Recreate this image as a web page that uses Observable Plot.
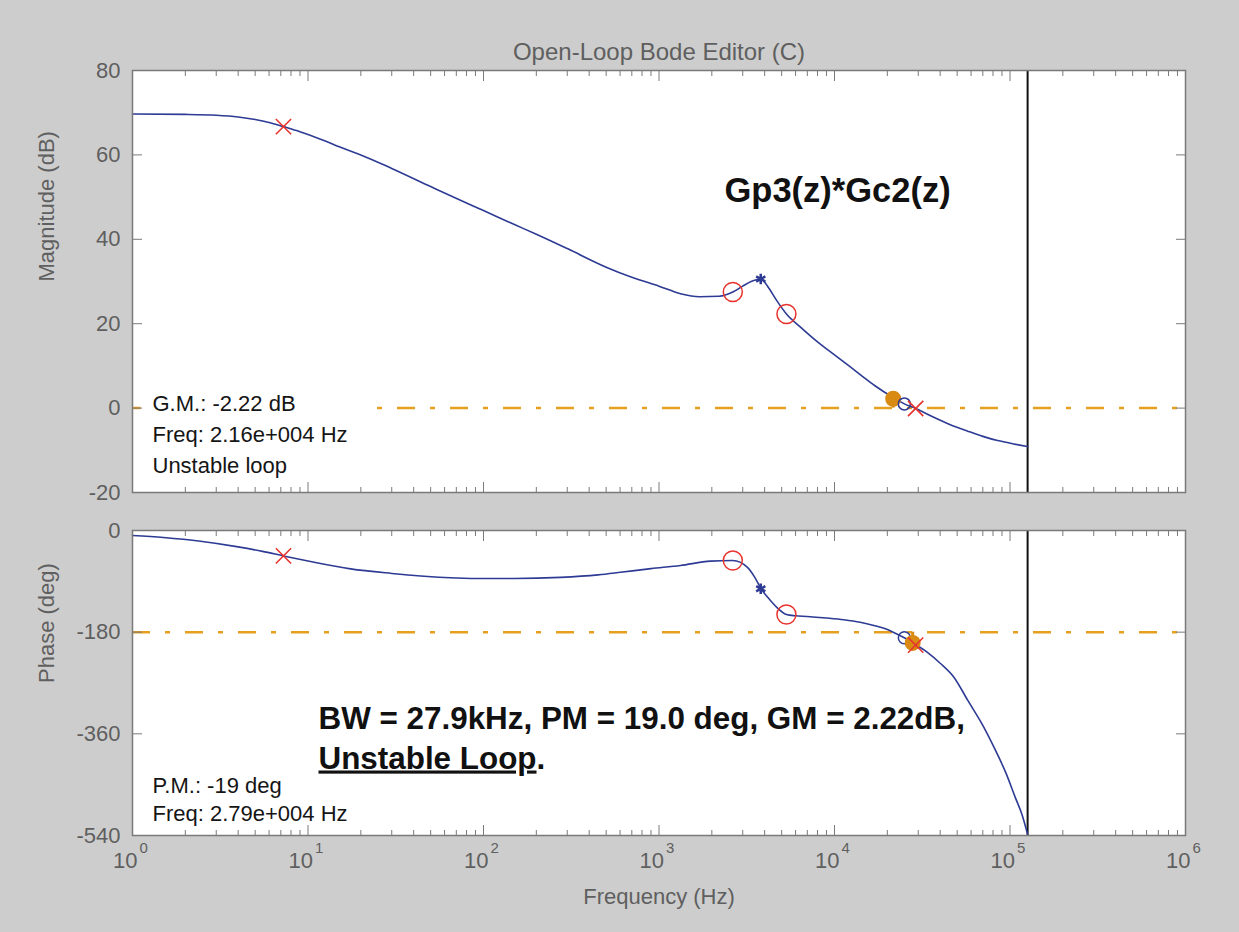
<!DOCTYPE html>
<html><head><meta charset="utf-8">
<script src="https://cdn.jsdelivr.net/npm/d3@7"></script>
<script src="https://cdn.jsdelivr.net/npm/@observablehq/plot@0.6"></script>
<style>
html,body{margin:0;padding:0;background:#cdcdcd;}
#chart{width:1239px;height:932px;position:relative;background:#cdcdcd;overflow:hidden;}
#chart svg{display:block;}
</style></head><body><div id="chart"></div>
<script>
// ---- data ----
const magFreq = [1, 2, 3, 4, 5, 6, 7.25, 9, 12, 16, 20, 30, 50, 80, 100, 150, 200, 300, 500, 700, 1000, 1326, 1700, 2200, 2634, 3000, 3400, 3800, 4200, 4700, 5322, 6400, 8000, 10000, 12000, 14070, 17000, 21600, 25000, 29000, 36000, 45000, 57000, 70000, 85000, 105000, 126000];
const magDb   = [69.7, 69.6, 69.4, 69.0, 68.4, 67.7, 66.7, 65.5, 63.6, 61.5, 60.0, 56.8, 52.5, 48.6, 46.8, 43.5, 41.2, 37.8, 33.4, 31.0, 28.9, 27.1, 26.4, 26.5, 27.5, 28.9, 30.1, 30.6, 28.6, 25.4, 22.3, 19.2, 15.7, 12.6, 10.1, 7.9, 5.3, 2.5, 1.0, -0.1, -2.0, -3.8, -5.4, -6.7, -7.7, -8.5, -9.1];

const phaseFreq = [1, 1.5, 2.44, 4, 5.5, 7.25, 10, 17.5, 30, 43.8, 70, 100, 150, 275, 450, 604, 900, 1326, 1965, 2634, 3180, 3500, 3820, 4316, 4800, 5322, 6000, 6980, 9000, 11300, 14000, 16760, 19500, 21600, 25000, 27900, 33700, 40000, 47900, 57500, 70000, 82700, 95000, 107000, 117000, 126000];
const phaseDeg  = [-8.9, -12.5, -19, -29, -37, -45, -54, -68, -76, -80.5, -84, -85, -85, -83, -78.5, -74, -67.5, -61.9, -54.3, -53.1, -64.9, -82, -103.2, -123.9, -139, -148.7, -151, -152.2, -155, -158.1, -162.5, -168.1, -174, -180, -190, -199, -215.4, -235, -259.7, -300.9, -345, -389.4, -430, -472, -503, -538];

// compensator / plant markers
const zeroFreq = [2634, 5322];          // red circles
const zeroMag = [27.5, 22.3];
const zeroPhase = [-53.1, -148.7];
const poleFreq = [7.25, 29000];          // red crosses
const poleMag = [66.7, -0.1];
const polePhase = [-45, -203];
const resFreq = [3800];                  // blue asterisk
const resMag = [30.6];
const resPhase = [-103.2];
const plantZeroFreq = [25000];           // small blue circle
const plantZeroMag = [1.0];
const plantZeroPhase = [-190];
const gmFreq = 21600, gmMag = 2.22;      // orange gain-margin marker
const pmFreq = 27900, pmPhase = -199;    // orange phase-margin marker
const nyquist = 126000;

const decades = [1, 10, 100, 1000, 10000, 100000, 1000000];
const minorTicks = [];
for (let k = 0; k < 6; k++) for (let m = 2; m <= 9; m++) minorTicks.push(m * Math.pow(10, k));
const magTicks = [80, 60, 40, 20, 0, -20];
const phaseTicks = [0, -180, -360, -540];

const titleText = "Open-Loop Bode Editor (C)";
const magLabel = "Magnitude (dB)";
const phaseLabel = "Phase (deg)";
const xLabel = "Frequency (Hz)";
const gmText = "G.M.: -2.22 dB\nFreq: 2.16e+004 Hz\nUnstable loop";
const pmText = "P.M.: -19 deg\nFreq: 2.79e+004 Hz";
const sysText = "Gp3(z)*Gc2(z)";
const noteLine1 = "BW = 27.9kHz, PM = 19.0 deg, GM = 2.22dB,";
const noteLine2 = "Unstable Loop.";

// ---- styles ----
const W = 1239;
const font = "'Liberation Sans', Arial, Helvetica, sans-serif";
const gray = "#5f5f5f";
const frameColor = "#7a7a7a";
const blue = "#2d3b94";
const red = "#e8332d";
const orange = "#d88a12";
const dashOrange = "#e6a020";
const dash = "18,15,5,15";

const magData = magFreq.map((f, i) => ({f, v: magDb[i]}));
const phaseData = phaseFreq.map((f, i) => ({f, v: phaseDeg[i]}));

function xTickMarks() {
  return [
    Plot.axisX({anchor: "top", ticks: minorTicks, tickSize: 5, dy: 5, fill: "none", label: null, stroke: frameColor}),
    Plot.axisX({anchor: "top", ticks: decades, tickSize: 10, dy: 10, fill: "none", label: null, stroke: frameColor}),
    Plot.axisX({anchor: "bottom", ticks: minorTicks, tickSize: 5, dy: -5, fill: "none", label: null, stroke: frameColor}),
    Plot.axisX({anchor: "bottom", ticks: decades, tickSize: 10, dy: -10, fill: "none", label: null, stroke: frameColor})
  ];
}
function yTickMarks(ticks) {
  return [
    Plot.axisY({anchor: "left", ticks, tickSize: 10, dx: 10, fill: "none", label: null, stroke: frameColor}),
    Plot.axisY({anchor: "right", ticks, tickSize: 10, dx: -10, fill: "none", label: null, stroke: frameColor}),
    Plot.axisY({anchor: "left", ticks, tickSize: 0, tickPadding: 12, fill: gray, fontSize: 22, label: null, tickFormat: d => String(d)})
  ];
}
function markers(zY, pY, rY, bY) {
  return {
    z: zeroFreq.map((f, i) => ({f, v: zY[i]})),
    p: poleFreq.map((f, i) => ({f, v: pY[i]})),
    r: resFreq.map((f, i) => ({f, v: rY[i]})),
    b: plantZeroFreq.map((f, i) => ({f, v: bY[i]}))
  };
}

const topM = markers(zeroMag, poleMag, resMag, plantZeroMag);
const botM = markers(zeroPhase, polePhase, resPhase, plantZeroPhase);

const topPlot = Plot.plot({
  width: W, height: 500,
  marginTop: 70, marginBottom: 8, marginLeft: 132, marginRight: 54,
  style: {background: "transparent", fontFamily: font, overflow: "visible"},
  x: {type: "log", domain: [1, 1e6]},
  y: {domain: [-20, 80]},
  marks: [
    Plot.frame({fill: "white", stroke: "none"}),
    Plot.ruleY([0], {stroke: dashOrange, strokeWidth: 2.5, strokeDasharray: dash}),
    Plot.frame({fill: "white", stroke: "none", insetLeft: 8, insetRight: 823, insetTop: 318, insetBottom: 8}),
    Plot.ruleX([nyquist], {stroke: "#111", strokeWidth: 2}),
    Plot.ruleX([gmFreq], {y1: 0, y2: gmMag, stroke: orange, strokeWidth: 3}),
    Plot.line(magData, {x: "f", y: "v", stroke: blue, strokeWidth: 1.6, curve: "monotone-x"}),
    Plot.dot([{f: gmFreq, v: gmMag}], {x: "f", y: "v", r: 8, fill: orange, stroke: "none"}),
    Plot.dot(topM.z, {x: "f", y: "v", r: 9.5, stroke: red, strokeWidth: 1.5, fill: "none"}),
    Plot.dot(topM.b, {x: "f", y: "v", r: 6, stroke: blue, strokeWidth: 1.5, fill: "none"}),
    Plot.dot(topM.r, {x: "f", y: "v", r: 5, symbol: "asterisk", stroke: blue, strokeWidth: 2.5}),
    Plot.dot(topM.p, {x: "f", y: "v", r: 7, symbol: "times", stroke: red, strokeWidth: 1.6}),
    ...xTickMarks(),
    ...yTickMarks(magTicks),
    Plot.frame({stroke: frameColor, strokeWidth: 1.5}),
    Plot.text([titleText], {frameAnchor: "top", dy: -28, fontSize: 24, fill: gray}),
    Plot.text([magLabel], {frameAnchor: "left", dx: -86, rotate: -90, fontSize: 22, fill: gray}),
    Plot.text([gmText], {frameAnchor: "bottom-left", dx: 20, dy: -20, lineAnchor: "bottom", lineHeight: 1.39, textAnchor: "start", fontSize: 22, fill: "#151515"}),
    Plot.text([sysText], {frameAnchor: "top-left", dx: 592, dy: 131, lineAnchor: "bottom", textAnchor: "start", fontSize: 34.5, fontWeight: "bold", fill: "#111"})
  ]
});

const botPlot = Plot.plot({
  width: W, height: 432,
  marginTop: 30, marginBottom: 97, marginLeft: 132, marginRight: 54,
  style: {background: "transparent", fontFamily: font, overflow: "visible"},
  x: {type: "log", domain: [1, 1e6]},
  y: {domain: [-540, 0]},
  marks: [
    Plot.frame({fill: "white", stroke: "none"}),
    Plot.ruleY([-180], {stroke: dashOrange, strokeWidth: 2.5, strokeDasharray: dash}),
    Plot.ruleX([nyquist], {stroke: "#111", strokeWidth: 2}),
    Plot.ruleX([pmFreq], {y1: -180, y2: pmPhase, stroke: orange, strokeWidth: 3}),
    Plot.line(phaseData, {x: "f", y: "v", stroke: blue, strokeWidth: 1.6, curve: "monotone-x"}),
    Plot.dot(botM.b, {x: "f", y: "v", r: 6, stroke: blue, strokeWidth: 1.5, fill: "none"}),
    Plot.dot([{f: pmFreq, v: pmPhase}], {x: "f", y: "v", r: 8, fill: orange, stroke: "none"}),
    Plot.dot(botM.z, {x: "f", y: "v", r: 9.5, stroke: red, strokeWidth: 1.5, fill: "none"}),
    Plot.dot(botM.r, {x: "f", y: "v", r: 5, symbol: "asterisk", stroke: blue, strokeWidth: 2.5}),
    Plot.dot(botM.p, {x: "f", y: "v", r: 7, symbol: "times", stroke: red, strokeWidth: 1.6}),
    ...xTickMarks(),
    ...yTickMarks(phaseTicks),
    Plot.frame({stroke: frameColor, strokeWidth: 1.5}),
    Plot.text(decades, {x: d => d, frameAnchor: "bottom", text: () => "10", textAnchor: "end", dx: 5, dy: 32, fontSize: 22, fill: gray}),
    Plot.text(decades, {x: d => d, frameAnchor: "bottom", text: d => String(Math.round(Math.log10(d))), textAnchor: "start", dx: 7, dy: 17, fontSize: 15, fill: gray}),
    Plot.text([xLabel], {frameAnchor: "bottom", dy: 68, fontSize: 22, fill: gray}),
    Plot.text([phaseLabel], {frameAnchor: "left", dx: -86, rotate: -90, fontSize: 22, fill: gray}),
    Plot.text([pmText], {frameAnchor: "bottom-left", dx: 20, dy: -15, lineAnchor: "bottom", lineHeight: 1.26, textAnchor: "start", fontSize: 22, fill: "#151515"}),
    Plot.text([noteLine1], {frameAnchor: "top-left", dx: 186, dy: 198, lineAnchor: "bottom", textAnchor: "start", fontSize: 31.4, fontWeight: "bold", fill: "#111"}),
    Plot.text([noteLine2], {frameAnchor: "top-left", dx: 186, dy: 238, lineAnchor: "bottom", textAnchor: "start", fontSize: 31.4, fontWeight: "bold", fill: "#111"})
  ]
});

// underline "Unstable Loop" (not the period)
d3.select(botPlot).selectAll("text").each(function () {
  if (this.textContent === noteLine2) {
    const t = d3.select(this);
    t.text("");
    t.append("tspan").attr("text-decoration", "underline").text(noteLine2.slice(0, -1));
    t.append("tspan").text(".");
  }
});

const chart = document.getElementById("chart");
chart.appendChild(topPlot);
chart.appendChild(botPlot);
</script>
</body></html>
